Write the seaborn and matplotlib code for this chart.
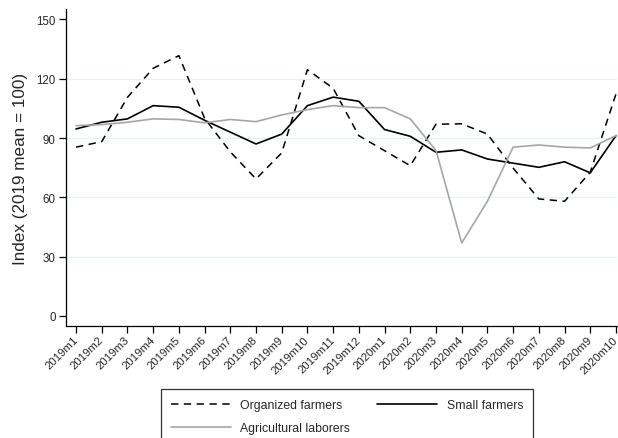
import matplotlib
matplotlib.use("Agg")
import matplotlib.pyplot as plt
import seaborn as sns
import numpy as np
import pandas as pd

months = ["2019m1", "2019m2", "2019m3", "2019m4", "2019m5", "2019m6", "2019m7", "2019m8",
          "2019m9", "2019m10", "2019m11", "2019m12", "2020m1", "2020m2", "2020m3", "2020m4",
          "2020m5", "2020m6", "2020m7", "2020m8", "2020m9", "2020m10"]
organized = [85.4, 88.2, 110.6, 125.3, 131.7, 100.0, 83.0, 69.3, 82.5, 124.6, 115.2, 91.2,
             83.6, 76.0, 97.0, 97.2, 92.0, 74.8, 59.2, 58.0, 72.7, 112.3]
small = [94.6, 98.0, 99.7, 106.4, 105.6, 99.0, 93.0, 87.0, 92.0, 106.4, 110.7, 108.6,
         94.3, 90.9, 82.8, 84.0, 79.4, 77.3, 75.2, 78.0, 72.4, 91.2]
laborers = [96.3, 96.8, 98.0, 99.7, 99.4, 97.7, 99.4, 98.3, 101.7, 104.4, 106.4, 105.4,
            105.4, 99.7, 83.7, 36.9, 58.0, 85.4, 86.5, 85.4, 85.0, 91.2]
yticks = [0, 30, 60, 90, 120, 150]

sns.set_theme(style="white")
plt.rcParams['font.family'] = ['Liberation Sans', 'DejaVu Sans']

fig = plt.figure(figsize=(6.18, 4.39), dpi=100)
ax = fig.add_axes([66/618, 1-327/439, (617-66)/618, (327-10)/439])

x = np.arange(len(months))
sns.lineplot(x=x, y=organized, ax=ax, color="black", lw=1.1, label="Organized farmers")
sns.lineplot(x=x, y=small, ax=ax, color="black", lw=1.2, label="Small farmers")
sns.lineplot(x=x, y=laborers, ax=ax, color="#a6a6a6", lw=1.2, label="Agricultural laborers")
lines = ax.get_lines()
lines[0].set_dashes((4.8, 3.6))
ax.get_legend().remove()

ax.set_xlim(-0.39, 21.04)
ax.set_ylim(-5.1, 155.3)
ax.set_yticks(yticks)
ax.set_yticklabels([str(v) for v in yticks], fontsize=8.3)
ax.set_xticks(x)
ax.set_xticklabels(months, rotation=45, ha="right", va="center",
                   rotation_mode="anchor", fontsize=8.2)
for gv in [30, 60, 90, 120]:
    ax.axhline(gv, color="#e8f0f2", lw=0.9, zorder=0)

for s in ["top", "right"]:
    ax.spines[s].set_visible(False)
for s in ["left", "bottom"]:
    ax.spines[s].set_color("black")
    ax.spines[s].set_linewidth(0.9)
ax.tick_params(axis="both", which="major", direction="out", length=5, width=0.9,
               color="black", pad=2.5, left=True, bottom=True)
ax.tick_params(axis="x", pad=3.5)
ax.set_ylabel("Index (2019 mean = 100)", fontsize=12.3, labelpad=6)
ax.set_xlabel("")

handles = [lines[0], lines[2], lines[1]]
labels = ["Organized farmers", "Agricultural laborers", "Small farmers"]
leg = fig.legend(handles, labels, ncol=2, loc="upper left",
                 bbox_to_anchor=(161/618, 1-390/439), fontsize=8.8,
                 frameon=True, fancybox=False, edgecolor="black",
                 handlelength=4.9, handletextpad=0.8, columnspacing=2.2,
                 borderpad=0.8, labelspacing=0.95, borderaxespad=0)
leg.get_frame().set_linewidth(0.9)

fig.savefig("out.png", dpi=100, facecolor="white")
